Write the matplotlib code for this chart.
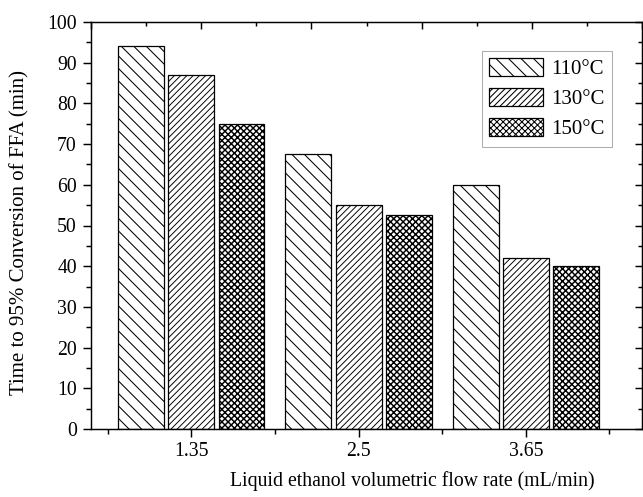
import numpy as np
import matplotlib
matplotlib.use('Agg')
import matplotlib.pyplot as plt
from matplotlib.ticker import MultipleLocator, FixedLocator, NullFormatter

# data
flow_rates = ['1.35', '2.5', '3.65']
temps = ['110°C', '130°C', '150°C']
t_110 = [94.0, 67.5, 60.0]
t_130 = [87.0, 55.0, 42.0]
t_150 = [75.0, 52.5, 40.0]
hatches = ['\\\\', '////', 'xxxx']
hatch_lw = [1.0, 0.9, 1.4]

plt.rcParams['font.family'] = ['Liberation Serif', 'DejaVu Serif']

dpi = 75
fig = plt.figure(figsize=(643 / dpi, 497 / dpi), dpi=dpi)
ax = fig.add_axes([91 / 643, 1 - 429 / 497, 551 / 643, 407 / 497])

x = np.arange(len(flow_rates))
width = 0.275
offset = 0.30
series = [t_110, t_130, t_150]
for i, (vals, lab) in enumerate(zip(series, temps)):
    with plt.rc_context({'hatch.linewidth': hatch_lw[i]}):
        ax.bar(x + (i - 1) * offset, vals, width, label=lab,
               color='white', edgecolor='black', linewidth=1.2,
               hatch=hatches[i], zorder=2)

ax.set_xlim(-0.6, 2.695)
ax.set_ylim(0, 100)
ax.set_xticks(x)
ax.set_xticklabels(flow_rates)
ax.xaxis.set_minor_locator(FixedLocator([-0.5, 0.5, 1.5, 2.5]))
ax.yaxis.set_major_locator(MultipleLocator(10))
ax.yaxis.set_minor_locator(MultipleLocator(5))

fs = 19
ax.tick_params(axis='both', which='major', direction='out', length=7.5,
               width=1.4, labelsize=fs, pad=5)
ax.tick_params(axis='both', which='minor', direction='out', length=4.5,
               width=1.4)
ax.tick_params(axis='y', which='major', pad=6)
for s in ax.spines.values():
    s.set_linewidth(1.4)

# right spine: inward ticks
ax2 = ax.twinx()
ax2.set_ylim(0, 100)
ax2.yaxis.set_major_locator(MultipleLocator(10))
ax2.yaxis.set_minor_locator(MultipleLocator(5))
ax2.yaxis.set_major_formatter(NullFormatter())
ax2.tick_params(axis='y', which='major', direction='in', length=7, width=1.4)
ax2.tick_params(axis='y', which='minor', direction='in', length=4, width=1.4)

# top spine: plain linear ticks, inward
ax3 = ax.twiny()
ax3.set_xlim(0, 5)
ax3.xaxis.set_major_locator(MultipleLocator(1))
ax3.xaxis.set_minor_locator(MultipleLocator(0.5))
ax3.xaxis.set_major_formatter(NullFormatter())
ax3.tick_params(axis='x', which='major', direction='in', length=7, width=1.4)
ax3.tick_params(axis='x', which='minor', direction='in', length=4, width=1.4)

ax.set_ylabel('Time to 95% Conversion of FFA (min)', fontsize=20)
ax.yaxis.set_label_coords(-0.111, 0.484)
ax.set_xlabel('Liquid ethanol volumetric flow rate (mL/min)', fontsize=fs)
ax.xaxis.set_label_coords(0.584, -0.104)

leg = ax.legend(loc='upper right', bbox_to_anchor=(0.9456, 0.9287),
                fontsize=fs + 1, frameon=True, fancybox=False,
                handlelength=2.6, handleheight=0.95, labelspacing=0.42,
                handletextpad=0.4, borderpad=0.35, borderaxespad=0)
leg.get_frame().set_edgecolor('#999999')
leg.get_frame().set_linewidth(1.0)

fig.savefig('out.png', dpi=dpi)
